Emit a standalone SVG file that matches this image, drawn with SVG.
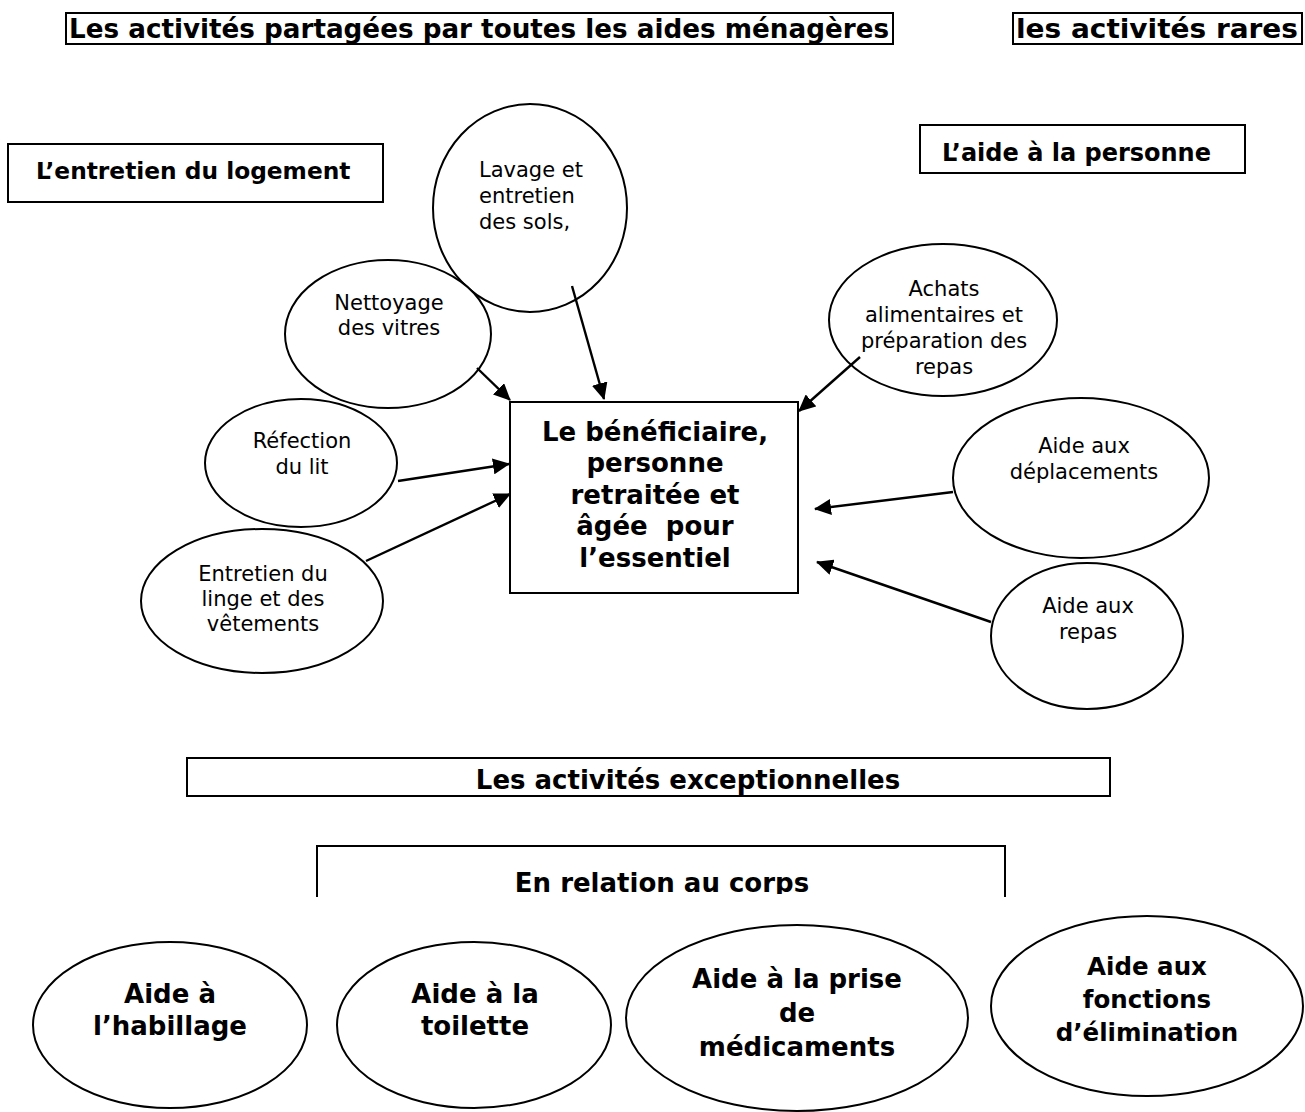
<svg xmlns="http://www.w3.org/2000/svg" width="1305" height="1112" viewBox="0 0 1305 1112">
<defs>
<style>
.box{fill:#fff;stroke:#000;stroke-width:2}
.ell{fill:#fff;stroke:#000;stroke-width:2}
.t{font-family:"DejaVu Sans","Verdana",sans-serif;fill:#000}
.r{font-size:21px}
.b{font-weight:bold}
.mid{text-anchor:middle}
.con{stroke:#000;stroke-width:2.4;fill:none;marker-end:url(#arr)}
</style>
<marker id="arr" markerUnits="userSpaceOnUse" markerWidth="18" markerHeight="16" refX="16" refY="8" orient="auto">
<path d="M0,0 L17,8 L0,16 z" fill="#000"/>
</marker>
<clipPath id="clipCorps"><rect x="317" y="846" width="689" height="48"/></clipPath>
</defs>

<g id="header-partagees">
<rect class="box" x="66" y="13" width="827" height="31"/>
<text class="t b" x="69" y="38" font-size="26" textLength="820" lengthAdjust="spacingAndGlyphs">Les activités partagées par toutes les aides ménagères</text>
</g>
<g id="header-rares">
<rect class="box" x="1013" y="13" width="289" height="31"/>
<text class="t b" x="1016" y="38" font-size="26" textLength="282" lengthAdjust="spacingAndGlyphs">les activités rares</text>
</g>

<g id="label-logement">
<rect class="box" x="8" y="144" width="375" height="58"/>
<text class="t b" x="36" y="179" font-size="23.3">L’entretien du logement</text>
</g>
<g id="label-personne">
<rect class="box" x="920" y="125" width="325" height="48"/>
<text class="t b" x="942" y="161" font-size="24">L’aide à la personne</text>
</g>

<g id="node-lavage">
<ellipse class="ell" cx="530" cy="208" rx="97" ry="104"/>
<text class="t r" x="479" y="177">Lavage et</text>
<text class="t r" x="479" y="203">entretien</text>
<text class="t r" x="479" y="229">des sols,</text>
</g>
<g id="node-nettoyage">
<ellipse class="ell" cx="388" cy="334" rx="103" ry="74"/>
<text class="t r mid" x="389" y="310">Nettoyage</text>
<text class="t r mid" x="389" y="335">des vitres</text>
</g>
<g id="node-refection">
<ellipse class="ell" cx="301" cy="463" rx="96" ry="64"/>
<text class="t r mid" x="302" y="448">Réfection</text>
<text class="t r mid" x="302" y="474">du lit</text>
</g>
<g id="node-linge">
<ellipse class="ell" cx="262" cy="601" rx="121" ry="72"/>
<text class="t r mid" x="263" y="581">Entretien du</text>
<text class="t r mid" x="263" y="606">linge et des</text>
<text class="t r mid" x="263" y="631">vêtements</text>
</g>

<g id="node-beneficiaire">
<rect class="box" x="510" y="402" width="288" height="191"/>
<text class="t b mid" x="655" y="441" font-size="26">Le bénéficiaire,</text>
<text class="t b mid" x="655" y="472" font-size="26">personne</text>
<text class="t b mid" x="655" y="504" font-size="26">retraitée et</text>
<text class="t b mid" x="655" y="535" font-size="26" xml:space="preserve">âgée  pour</text>
<text class="t b mid" x="655" y="567" font-size="26">l’essentiel</text>
</g>

<g id="node-achats">
<ellipse class="ell" cx="943" cy="320" rx="114" ry="76"/>
<text class="t r mid" x="944" y="296">Achats</text>
<text class="t r mid" x="944" y="322">alimentaires et</text>
<text class="t r mid" x="944" y="348">préparation des</text>
<text class="t r mid" x="944" y="374">repas</text>
</g>
<g id="node-deplacements">
<ellipse class="ell" cx="1081" cy="478" rx="128" ry="80"/>
<text class="t r mid" x="1084" y="453">Aide aux</text>
<text class="t r mid" x="1084" y="479">déplacements</text>
</g>
<g id="node-repas">
<ellipse class="ell" cx="1087" cy="636" rx="96" ry="73"/>
<text class="t r mid" x="1088" y="613">Aide aux</text>
<text class="t r mid" x="1088" y="639">repas</text>
</g>

<g id="label-exceptionnelles">
<rect class="box" x="187" y="758" width="923" height="38"/>
<text class="t b mid" x="688" y="789" font-size="26">Les activités exceptionnelles</text>
</g>
<g id="label-corps">
<path d="M317,897 L317,846 L1005,846 L1005,897" fill="#fff" stroke="#000" stroke-width="2"/>
<text class="t b mid" x="662" y="892" font-size="26" clip-path="url(#clipCorps)">En relation au corps</text>
</g>

<g id="node-habillage">
<ellipse class="ell" cx="170" cy="1025" rx="137" ry="83"/>
<text class="t b mid" x="170" y="1003" font-size="26">Aide à</text>
<text class="t b mid" x="170" y="1035" font-size="26">l’habillage</text>
</g>
<g id="node-toilette">
<ellipse class="ell" cx="474" cy="1025" rx="137" ry="83"/>
<text class="t b mid" x="475" y="1003" font-size="26">Aide à la</text>
<text class="t b mid" x="475" y="1035" font-size="26">toilette</text>
</g>
<g id="node-medicaments">
<ellipse class="ell" cx="797" cy="1018" rx="171" ry="93"/>
<text class="t b mid" x="797" y="988" font-size="26">Aide à la prise</text>
<text class="t b mid" x="797" y="1022" font-size="26">de</text>
<text class="t b mid" x="797" y="1056" font-size="26">médicaments</text>
</g>
<g id="node-elimination">
<ellipse class="ell" cx="1147" cy="1006" rx="156" ry="90"/>
<text class="t b mid" x="1147" y="975" font-size="24.5">Aide aux</text>
<text class="t b mid" x="1147" y="1008" font-size="24.5">fonctions</text>
<text class="t b mid" x="1147" y="1041" font-size="24.5">d’élimination</text>
</g>

<g id="connectors">
<line class="con" x1="572" y1="286" x2="604" y2="399"/>
<line class="con" x1="477" y1="368" x2="510" y2="400"/>
<line class="con" x1="398" y1="481" x2="509" y2="464"/>
<line class="con" x1="366" y1="561" x2="510" y2="494"/>
<line class="con" x1="860" y1="357" x2="799" y2="411"/>
<line class="con" x1="953" y1="492" x2="815" y2="509"/>
<line class="con" x1="991" y1="622" x2="817" y2="562"/>
</g>
</svg>
